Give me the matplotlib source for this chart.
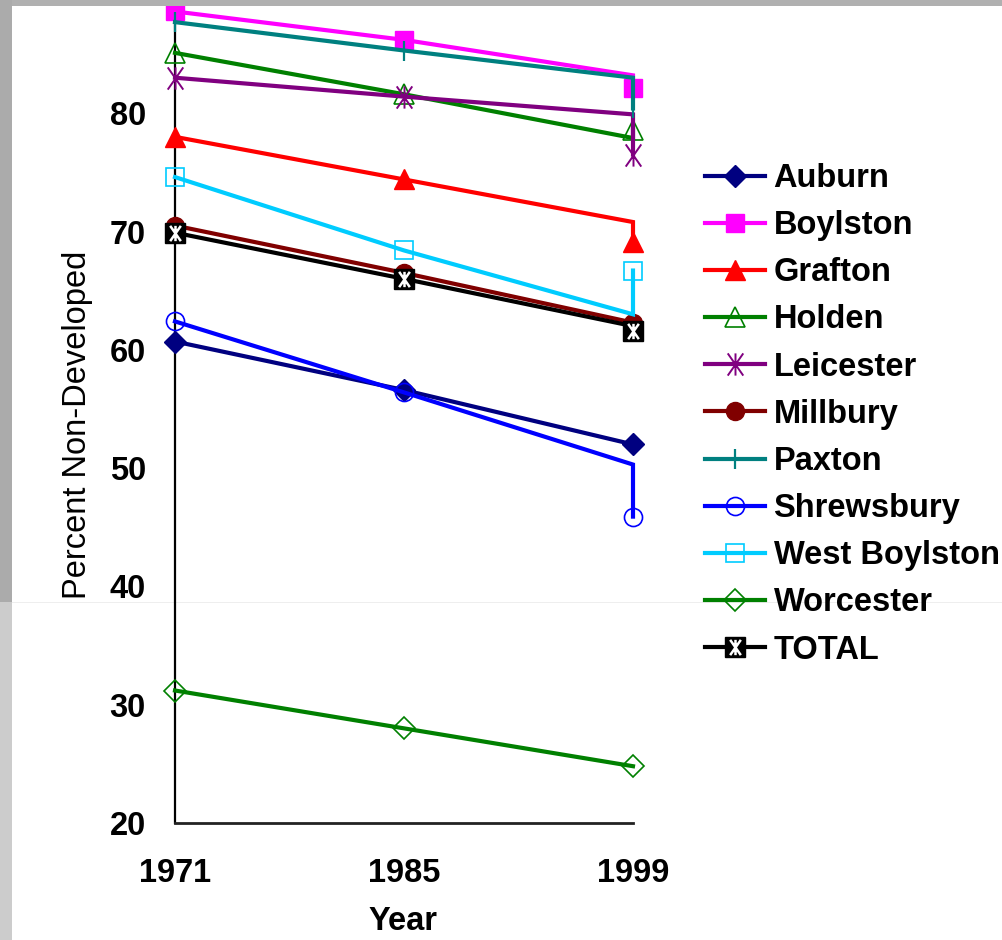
import matplotlib
matplotlib.use("Agg")
import matplotlib.pyplot as plt
from matplotlib.path import Path
from matplotlib.patches import Rectangle

# ---- data -------------------------------------------------------------
years = [1971, 1985, 1999]
towns = ["Auburn", "Boylston", "Grafton", "Holden", "Leicester", "Millbury",
         "Paxton", "Shrewsbury", "West Boylston", "Worcester", "TOTAL"]
values_1971 = [60.7, 88.6, 78.0, 85.1, 83.0, 70.5, 87.7, 62.4, 74.6, 31.2, 69.9]
values_1985 = [56.6, 86.2, 74.4, 81.6, 81.4, 66.5, 85.3, 56.4, 68.4, 28.0, 66.0]
values_1999 = [52.0, 82.1, 69.1, 78.6, 76.5, 62.3, 80.4, 45.9, 66.7, 24.8, 61.6]
# where each connecting line reaches the 1999 column before dropping to the point
line_end_1999 = [52.0, 83.2, 70.8, 77.9, 79.9, 62.3, 83.0, 50.3, 63.0, 24.8, 62.0]
y_ticks = [20, 30, 40, 50, 60, 70, 80]

# ---- styles -----------------------------------------------------------
star = Path([(-0.7, -1), (0.7, 1), (-0.7, 1), (0.7, -1), (0, -1), (0, 1)],
            [Path.MOVETO, Path.LINETO, Path.MOVETO, Path.LINETO,
             Path.MOVETO, Path.LINETO])

styles = {
    "Auburn":        dict(color="#000080", marker="D", ms=11, mfc="#000080", mew=1),
    "Boylston":      dict(color="#FF00FF", marker="s", ms=13, mfc="#FF00FF", mew=1),
    "Grafton":       dict(color="#FF0000", marker="^", ms=15, mfc="#FF0000", mew=1),
    "Holden":        dict(color="#008000", marker="^", ms=15, mfc="none", mew=1.2),
    "Leicester":     dict(color="#800080", marker=star, ms=16, mfc="none", mew=1.4),
    "Millbury":      dict(color="#800000", marker="o", ms=13, mfc="#800000", mew=1),
    "Paxton":        dict(color="#008080", marker="|", ms=14, mfc="none", mew=1.6),
    "Shrewsbury":    dict(color="#0000FF", marker="o", ms=13, mfc="none", mew=1.2),
    "West Boylston": dict(color="#00CCFF", marker="s", ms=13, mfc="none", mew=1.2),
    "Worcester":     dict(color="#008000", marker="D", ms=11, mfc="none", mew=1.2),
    "TOTAL":         dict(color="#000000", marker="s", ms=15, mfc="#000000", mew=1),
}

FONT = "Liberation Sans"
FS = 23.5
plt.rcParams["font.family"] = [FONT, "DejaVu Sans"]

W, H = 1003, 940
fig = plt.figure(figsize=(W / 100, H / 100), dpi=100)
fig.patch.set_facecolor("white")

ax_left, ax_right = 175 / W, 633 / W
ax_bottom, ax_top = 1 - 823 / H, 1 - 6 / H
ax = fig.add_axes([ax_left, ax_bottom, ax_right - ax_left, ax_top - ax_bottom])
ax.set_facecolor("none")

handles = []
for i, town in enumerate(towns):
    st = dict(styles[town])
    xs = years + [years[-1]]
    ys = [values_1971[i], values_1985[i], line_end_1999[i], values_1999[i]]
    ln, = ax.plot(xs, ys, color=st["color"], lw=3.0, marker=st["marker"],
                  markersize=st["ms"], markerfacecolor=st["mfc"],
                  markeredgecolor=st["color"], markeredgewidth=st["mew"],
                  markevery=[0, 1, 3], clip_on=False, zorder=3 + i,
                  solid_joinstyle="miter")
    if town == "TOTAL":
        inner, = ax.plot(years, [values_1971[i], values_1985[i], values_1999[i]],
                         ls="none", marker=star, markersize=11,
                         markeredgecolor="white", markeredgewidth=1.8,
                         clip_on=False, zorder=20)
        handles.append((ln, inner))
    else:
        handles.append(ln)

ax.set_xlim(1971, 1999)
ax.set_ylim(20, 20 + (823 - 6) / 11.83)
ax.set_xticks(years)
ax.set_yticks(y_ticks)
ax.tick_params(axis="both", length=0, labelsize=FS)
ax.tick_params(axis="y", pad=21)
ax.tick_params(axis="x", pad=25)
for lab in ax.get_xticklabels() + ax.get_yticklabels():
    lab.set_fontweight("bold")

for side in ("top", "right"):
    ax.spines[side].set_visible(False)
ax.spines["left"].set_linewidth(1.6)
ax.spines["bottom"].set_linewidth(2.0)
ax.spines["left"].set_color("black")
ax.spines["bottom"].set_color("#222222")

ax.set_xlabel("Year", fontsize=FS, fontweight="bold", va="center")
ax.xaxis.set_label_coords(403 / W, 1 - 921 / H, transform=fig.transFigure)
ax.set_ylabel("Percent Non-Developed", fontsize=FS, va="center", ha="center")
ax.yaxis.set_label_coords(78 / W, 1 - 425 / H, transform=fig.transFigure)

leg = fig.legend(handles, towns, loc="upper left",
                 bbox_to_anchor=(705 / W, 1 - 163 / H),
                 bbox_transform=fig.transFigure, frameon=False,
                 handlelength=1.85, handletextpad=0.25, labelspacing=0.495,
                 borderpad=0, borderaxespad=0,
                 prop=dict(family=FONT, weight="bold", size=FS))

# slide frame: grey bar along the top, grey strip on the left
fig.add_artist(Rectangle((0, 1 - 6 / H), 1, 6 / H, transform=fig.transFigure,
                         facecolor="#b0b0b0", edgecolor="none", zorder=30))
fig.add_artist(Rectangle((0, 1 - 602 / H), 12 / W, 602 / H, transform=fig.transFigure,
                         facecolor="#ababab", edgecolor="none", zorder=30))
fig.add_artist(Rectangle((0, 0), 12 / W, 1 - 602 / H, transform=fig.transFigure,
                         facecolor="#cccccc", edgecolor="none", zorder=30))
fig.add_artist(Rectangle((12 / W, 1 - 603 / H), 1, 1 / H, transform=fig.transFigure,
                         facecolor="#eeeeee", edgecolor="none", zorder=-1))

fig.savefig("out.png", dpi=100, facecolor=fig.get_facecolor())
